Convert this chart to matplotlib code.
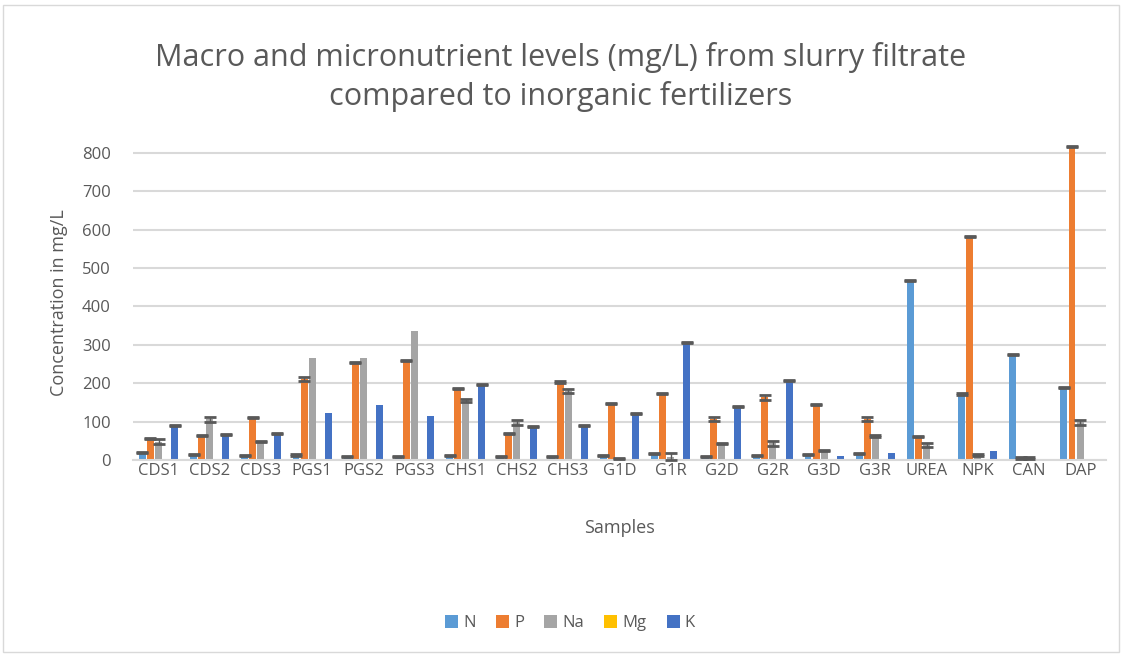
import numpy as np
import matplotlib.pyplot as plt
from matplotlib.patches import Rectangle

# sample names
samples = ['CDS1', 'CDS2', 'CDS3', 'PGS1', 'PGS2', 'PGS3', 'CHS1', 'CHS2', 'CHS3',
           'G1D', 'G1R', 'G2D', 'G2R', 'G3D', 'G3R', 'UREA', 'NPK', 'CAN', 'DAP']

# nutrient levels (mg/L)
N  = [19, 15, 11, 13, 10, 10, 11, 10, 10, 12, 16, 10, 11, 14, 16, 467, 172, 274, 188]
P  = [56, 63, 110, 210, 254, 260, 186, 70, 203, 146, 174, 107, 163, 145, 106, 62, 583, 5, 817]
Na = [48, 106, 49, 265, 266, 335, 155, 98, 179, 4, 9, 43, 43, 25, 63, 39, 13, 5, 98]
Mg = [1, 1, 1, 1, 1, 1, 1, 1, 1, 1, 1, 1, 1, 1, 1, 1, 1, 1, 1]
K  = [90, 66, 70, 122, 143, 115, 197, 88, 90, 120, 306, 139, 208, 10, 18, 0, 23, 0, 0]

# error bars (0 = none drawn)
N_err  = [1.5, 1.5, 1.5, 1.5, 1.5, 1.5, 1.5, 1.5, 1.5, 1.5, 1.5, 1.5, 1.5, 1.5, 1.5, 1.5, 1.5, 1.5, 1.5]
P_err  = [1.5, 1.5, 1.5, 5, 1.5, 1.5, 1.5, 1.5, 1.5, 1.5, 1.5, 5, 6, 1.5, 5, 1.5, 1.5, 1.5, 1.5]
Na_err = [6, 6, 1.5, 0, 0, 0, 5, 6, 5, 1.5, 10, 1.5, 6, 1.5, 3, 6, 1.5, 1.5, 7]
Mg_err = [0] * 19
K_err  = [1.5, 1.5, 1.5, 0, 0, 0, 1.5, 1.5, 1.5, 1.5, 1.5, 1.5, 1.5, 0, 0, 0, 0, 0, 0]

series = ['N', 'P', 'Na', 'Mg', 'K']
values = [N, P, Na, Mg, K]
errors = [N_err, P_err, Na_err, Mg_err, K_err]
colors = ['#5B9BD5', '#ED7D31', '#A5A5A5', '#FFC000', '#4472C4']

plt.rcParams['font.family'] = ['Open Sans', 'DejaVu Sans']
text_col = '#595959'

fig = plt.figure(figsize=(11.22, 6.56), dpi=100)
ax = fig.add_axes([0.1185, 0.2988, 0.867, 0.48])

# chart border
fig.patches.append(Rectangle((0.003, 0.006), 0.994, 0.986, transform=fig.transFigure,
                             fill=False, edgecolor='#D9D9D9', linewidth=1))

x = np.arange(len(samples))
step = 0.158
width = 0.135
for i, (name, vals, errs, col) in enumerate(zip(series, values, errors, colors)):
    pos = x + (i - 2) * step
    ax.bar(pos, vals, width=width, color=col, label=name, zorder=2, clip_on=False)
    e = np.array(errs)
    m = e > 0
    if m.any():
        ax.errorbar(pos[m], np.array(vals)[m], yerr=e[m], fmt='none', ecolor='#595959',
                    elinewidth=1, capsize=4, capthick=2, zorder=3, clip_on=False)

ax.set_xlim(-0.5, len(samples) - 0.5)
ax.set_ylim(0, 820)
ax.set_yticks(range(0, 801, 100))
ax.set_xticks(x)
ax.set_xticklabels(samples)
ax.tick_params(axis='both', length=0, labelsize=12, labelcolor=text_col)
ax.tick_params(axis='x', pad=2)
ax.tick_params(axis='y', pad=16)
ax.grid(axis='y', color='#D9D9D9', linewidth=1.5, zorder=0)
ax.set_axisbelow(True)
for s in ['top', 'right', 'left']:
    ax.spines[s].set_visible(False)
ax.spines['bottom'].set_color('#D9D9D9')
ax.spines['bottom'].set_linewidth(1.5)

ax.set_xlabel('Samples', fontsize=13, color=text_col, labelpad=29)
ax.set_ylabel('Concentration in mg/L', fontsize=13, color=text_col, labelpad=10)

fig.text(0.5, 0.8826, 'Macro and micronutrient levels (mg/L) from slurry filtrate\ncompared to inorganic fertilizers',
         ha='center', va='center', fontsize=22, color=text_col, linespacing=1.3)

fig.legend(loc='center', bbox_to_anchor=(0.508, 0.05), ncol=5, frameon=False,
           fontsize=12, handlelength=0.8, handleheight=0.8, handletextpad=0.3,
           columnspacing=1.2, labelcolor=text_col)

fig.savefig('out.png', dpi=100)
